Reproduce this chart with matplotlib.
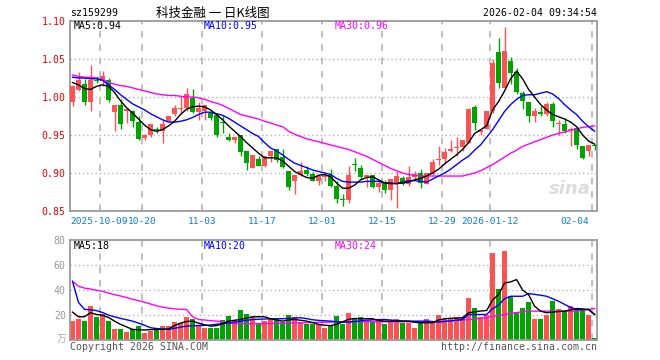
import matplotlib
matplotlib.use('Agg')
import matplotlib.pyplot as plt
import numpy as np

# daily candles, 2025-09-24 .. 2026-02-04
opens = [0.994, 1.009, 1.017, 0.993, 1.023, 1.021, 1.023, 0.980, 0.989, 0.982,
         0.982, 0.967, 0.946, 0.950, 0.958, 0.955, 0.968, 0.978, 0.984, 0.986,
         0.999, 0.980, 0.981, 0.979, 0.976, 0.967, 0.948, 0.943, 0.950, 0.929,
         0.907, 0.918, 0.909, 0.923, 0.931, 0.921, 0.903, 0.889, 0.898, 0.904,
         0.899, 0.890, 0.895, 0.898, 0.883, 0.866, 0.865, 0.912, 0.907, 0.895,
         0.898, 0.882, 0.887, 0.877, 0.886, 0.893, 0.886, 0.895, 0.900, 0.886,
         0.899, 0.917, 0.918, 0.929, 0.933, 0.934, 0.940, 0.987, 0.954, 0.958,
         0.981, 1.059, 1.012, 1.047, 1.033, 1.005, 0.994, 0.975, 0.980, 0.977,
         0.991, 0.965, 0.965, 0.957, 0.959, 0.936, 0.929, 0.937]
highs = [1.016, 1.033, 1.024, 1.042, 1.027, 1.034, 1.025, 0.989, 0.997, 0.986,
         0.983, 0.975, 0.951, 0.964, 0.961, 0.970, 0.975, 0.989, 1.001, 1.012,
         1.011, 0.994, 0.989, 0.979, 0.976, 0.975, 0.953, 0.948, 0.950, 0.929,
         0.924, 0.923, 0.923, 0.929, 0.931, 0.931, 0.903, 0.898, 0.914, 0.909,
         0.901, 0.896, 0.898, 0.905, 0.889, 0.872, 0.909, 0.920, 0.911, 0.898,
         0.898, 0.891, 0.891, 0.892, 0.902, 0.896, 0.909, 0.902, 0.905, 0.900,
         0.918, 0.935, 0.933, 0.944, 0.948, 0.943, 0.986, 0.990, 0.957, 0.982,
         1.050, 1.077, 1.092, 1.053, 1.038, 1.008, 0.994, 0.986, 0.988, 0.994,
         0.994, 0.970, 0.972, 0.961, 0.961, 0.936, 0.937, 0.938]
lows = [0.988, 1.008, 0.990, 0.981, 1.019, 1.014, 0.994, 0.955, 0.958, 0.966,
        0.961, 0.944, 0.944, 0.947, 0.953, 0.939, 0.967, 0.975, 0.978, 0.982,
        0.979, 0.970, 0.970, 0.970, 0.948, 0.953, 0.942, 0.940, 0.923, 0.904,
        0.907, 0.909, 0.908, 0.914, 0.915, 0.906, 0.878, 0.872, 0.896, 0.896,
        0.889, 0.884, 0.890, 0.882, 0.861, 0.856, 0.861, 0.902, 0.892, 0.882,
        0.880, 0.875, 0.874, 0.865, 0.854, 0.884, 0.883, 0.891, 0.880, 0.886,
        0.898, 0.911, 0.913, 0.927, 0.922, 0.929, 0.940, 0.957, 0.950, 0.958,
        0.979, 1.012, 1.012, 1.017, 1.004, 0.984, 0.967, 0.967, 0.975, 0.975,
        0.960, 0.950, 0.953, 0.935, 0.931, 0.918, 0.923, 0.930]
closes = [1.014, 1.023, 0.993, 1.022, 1.021, 1.027, 0.996, 0.989, 0.965, 0.984,
          0.968, 0.945, 0.950, 0.964, 0.957, 0.964, 0.975, 0.986, 0.986, 1.004,
          0.980, 0.986, 0.989, 0.972, 0.950, 0.966, 0.943, 0.948, 0.927, 0.913,
          0.924, 0.909, 0.923, 0.929, 0.917, 0.908, 0.882, 0.897, 0.903, 0.899,
          0.890, 0.896, 0.898, 0.883, 0.866, 0.865, 0.898, 0.911, 0.895, 0.898,
          0.881, 0.887, 0.878, 0.892, 0.896, 0.885, 0.895, 0.899, 0.887, 0.900,
          0.915, 0.918, 0.927, 0.932, 0.934, 0.943, 0.984, 0.966, 0.957, 0.982,
          1.045, 1.018, 1.060, 1.032, 1.007, 0.995, 0.975, 0.981, 0.977, 0.991,
          0.968, 0.966, 0.955, 0.958, 0.937, 0.920, 0.937, 0.936]

ma5 = [1.019, 1.016, 1.011, 1.010, 1.014, 1.016, 1.014, 1.006, 0.995, 0.986,
       0.979, 0.971, 0.963, 0.957, 0.955, 0.957, 0.962, 0.968, 0.977, 0.984,
       0.987, 0.988, 0.987, 0.983, 0.977, 0.970, 0.962, 0.955, 0.948, 0.940,
       0.933, 0.926, 0.920, 0.920, 0.920, 0.916, 0.909, 0.902, 0.898, 0.894,
       0.893, 0.897, 0.898, 0.895, 0.887, 0.880, 0.880, 0.884, 0.891, 0.894,
       0.895, 0.891, 0.887, 0.886, 0.886, 0.887, 0.888, 0.891, 0.893, 0.896,
       0.900, 0.905, 0.912, 0.918, 0.924, 0.931, 0.940, 0.952, 0.957, 0.962,
       0.983, 0.994, 1.008, 1.024, 1.034, 1.024, 1.010, 1.000, 0.990, 0.983,
       0.977, 0.974, 0.971, 0.967, 0.961, 0.950, 0.942, 0.938]
ma10 = [1.026, 1.025, 1.025, 1.024, 1.024, 1.022, 1.016, 1.010, 1.003, 0.997,
        0.991, 0.987, 0.983, 0.978, 0.974, 0.970, 0.967, 0.967, 0.968, 0.970,
        0.973, 0.977, 0.980, 0.980, 0.978, 0.976, 0.972, 0.967, 0.962, 0.957,
        0.952, 0.948, 0.940, 0.933, 0.929, 0.924, 0.918, 0.913, 0.910, 0.907,
        0.904, 0.902, 0.900, 0.898, 0.893, 0.889, 0.888, 0.888, 0.888, 0.889,
        0.889, 0.889, 0.887, 0.887, 0.886, 0.888, 0.890, 0.890, 0.889, 0.888,
        0.892, 0.896, 0.900, 0.905, 0.911, 0.917, 0.922, 0.930, 0.937, 0.947,
        0.957, 0.969, 0.981, 0.990, 0.997, 1.002, 1.003, 1.003, 1.005, 1.007,
        1.004, 0.998, 0.990, 0.983, 0.977, 0.968, 0.961, 0.955]
ma30 = [1.029, 1.027, 1.026, 1.026, 1.025, 1.023, 1.019, 1.017, 1.015, 1.014,
        1.012, 1.010, 1.008, 1.006, 1.004, 1.003, 1.002, 1.002, 1.001, 1.000,
        1.000, 0.999, 0.997, 0.994, 0.992, 0.989, 0.985, 0.981, 0.977, 0.975,
        0.973, 0.971, 0.968, 0.966, 0.963, 0.961, 0.955, 0.951, 0.948, 0.945,
        0.943, 0.941, 0.939, 0.937, 0.935, 0.933, 0.931, 0.928, 0.925, 0.922,
        0.918, 0.914, 0.910, 0.906, 0.903, 0.900, 0.898, 0.897, 0.896, 0.896,
        0.896, 0.896, 0.896, 0.896, 0.896, 0.896, 0.898, 0.900, 0.903, 0.907,
        0.911, 0.916, 0.921, 0.926, 0.930, 0.935, 0.938, 0.941, 0.944, 0.947,
        0.950, 0.952, 0.954, 0.956, 0.958, 0.960, 0.961, 0.962]

# volume, 万手
volume = [15.1, 17.0, 15.1, 27.6, 18.6, 21.2, 15.1, 8.5, 8.5, 6.4,
          9.0, 11.1, 5.3, 7.2, 9.8, 11.1, 11.1, 14.3, 13.3, 18.3,
          17.2, 11.1, 9.3, 9.3, 9.3, 15.9, 19.1, 15.9, 23.9, 21.2,
          18.6, 13.8, 15.1, 17.0, 17.0, 14.3, 19.9, 18.6, 14.3, 12.5,
          12.5, 12.5, 9.3, 11.4, 19.1, 12.5, 21.8, 17.8, 18.6, 14.3,
          14.3, 17.0, 12.5, 14.3, 17.0, 13.3, 13.3, 9.3, 14.6, 17.0,
          14.3, 19.9, 17.0, 17.0, 18.6, 17.8, 34.0, 26.0, 18.6, 19.9,
          70.0, 41.1, 71.6, 35.5, 22.3, 26.0, 30.2, 17.2, 17.2, 19.9,
          31.0, 25.2, 23.1, 27.1, 26.0, 24.4, 19.9, 1.3]
vma5 = [22.3, 18.6, 18.6, 21.8, 20.4, 19.8, 18.0, 15.1, 12.5, 10.5,
        8.5, 8.2, 8.0, 8.3, 8.5, 8.5, 8.8, 11.5, 13.5, 14.8,
        15.1, 13.5, 12.2, 11.1, 11.5, 13.0, 15.1, 15.8, 16.4, 17.5,
        18.6, 18.6, 18.6, 17.0, 16.0, 15.1, 16.0, 16.4, 15.8, 15.1,
        14.0, 12.5, 11.8, 11.5, 12.5, 14.5, 16.5, 17.2, 17.0, 17.0,
        17.0, 15.6, 15.1, 15.1, 15.1, 15.1, 15.1, 14.2, 13.8, 13.8,
        13.8, 16.0, 17.0, 17.4, 17.6, 17.8, 21.8, 22.5, 23.2, 23.6,
        32.0, 36.3, 45.6, 46.5, 48.3, 40.0, 36.3, 27.0, 23.1, 21.8,
        22.3, 22.8, 23.1, 24.0, 25.2, 24.8, 24.4, 20.4]
vma10 = [46.9, 30.0, 24.5, 24.2, 23.5, 22.0, 19.9, 18.5, 17.3, 16.2,
         15.1, 13.5, 11.8, 9.8, 9.2, 8.8, 8.5, 9.3, 10.3, 11.1,
         11.4, 11.6, 11.7, 12.0, 12.6, 13.1, 13.6, 14.2, 15.0, 15.7,
         16.4, 16.6, 16.8, 17.0, 17.0, 17.0, 17.3, 17.6, 17.8, 17.1,
         16.2, 15.7, 15.4, 15.1, 14.6, 14.3, 14.3, 14.8, 15.3, 15.8,
         16.1, 16.3, 16.4, 16.0, 15.5, 15.1, 15.1, 15.1, 15.1, 15.1,
         14.8, 14.4, 14.8, 15.3, 15.9, 16.4, 20.4, 20.4, 20.4, 20.4,
         25.0, 28.0, 33.0, 35.0, 35.0, 35.0, 37.1, 36.5, 35.8, 35.0,
         33.0, 31.0, 28.5, 26.0, 24.4, 24.4, 24.4, 20.4]
vma30 = [46.9, 43.0, 41.5, 40.8, 39.8, 39.0, 37.5, 36.3, 35.2, 34.0,
         32.6, 31.5, 30.2, 28.8, 27.4, 26.3, 25.5, 24.9, 24.6, 24.4,
         18.6, 16.4, 16.0, 15.5, 15.1, 14.5, 13.8, 13.0, 13.0, 13.0,
         13.0, 13.1, 13.2, 13.2, 13.3, 13.4, 13.5, 13.6, 13.7, 13.8,
         13.9, 14.1, 14.2, 14.3, 14.4, 14.5, 14.6, 14.6, 14.6, 14.6,
         14.6, 14.6, 14.6, 14.6, 14.6, 14.6, 14.6, 14.6, 14.6, 14.6,
         14.6, 14.6, 15.0, 15.3, 15.6, 15.9, 16.4, 16.9, 17.3, 17.8,
         19.0, 19.6, 20.4, 21.2, 21.9, 22.6, 23.1, 23.1, 23.1, 23.1,
         23.1, 23.1, 23.1, 23.1, 23.1, 23.8, 24.5, 25.2]

date_idx = [5, 12, 22, 32, 42, 52, 62, 70, 87]
date_labels = ['2025-10-09', '10-20', '11-03', '11-17', '12-01', '12-15',
               '12-29', '2026-01-12', '02-04']
price_ticks = [0.85, 0.90, 0.95, 1.00, 1.05, 1.10]
vol_ticks = [20, 40, 60, 80]

UP = '#ff5252'
DOWN = '#00a400'
GRID = '#b4b4b4'
FRAME = '#9a9a9a'
MONO = 'DejaVu Sans Mono'
FS = 7.1

W, H = 660, 360
fig = plt.figure(figsize=(W / 100, H / 100), dpi=100)


def fx(px):
    return px / W


def fy(py):
    return 1 - py / H


ax = fig.add_axes([fx(70), fy(211), (597 - 70) / W, (211 - 21) / H])
axv = fig.add_axes([fx(70), fy(340), (597 - 70) / W, (340 - 240) / H])

x = np.arange(len(closes))
o = np.array(opens)
c = np.array(closes)
up = c >= o
cols = np.where(up, UP, DOWN)
xlim = (-0.42, 87.4)
grid_x = np.array(date_idx) - 0.35

# price panel
for y in price_ticks[1:-1]:
    ax.axhline(y, color=GRID, lw=1, ls=(0, (1, 2)), zorder=0)
for gx in grid_x:
    ax.axvline(gx, color=GRID, lw=1.2, ls=(0, (4, 4)), zorder=0)

ax.vlines(x, lows, highs, colors=cols, lw=1, zorder=2)
body_h = np.maximum(np.abs(c - o), 0.0009)
ax.bar(x, body_h, bottom=np.minimum(o, c), width=0.8, color=cols, zorder=3)

ax.plot(x, ma30, color='#ff00ff', lw=1, zorder=4)
ax.plot(x, ma10, color='#0000ff', lw=1, zorder=4)
ax.plot(x, ma5, color='black', lw=1, zorder=4)

ax.set_xlim(*xlim)
ax.set_ylim(0.85, 1.10)
ax.set_yticks(price_ticks)
ax.set_yticklabels(['%.2f' % t for t in price_ticks], color='#ee0000',
                   fontfamily=MONO, fontsize=FS)
ax.set_xticks(grid_x)
ax.set_xticklabels([''] + date_labels[1:-1] + [''])
ax.tick_params(length=0, pad=3)
ax.tick_params(axis='x', pad=4, labelcolor='#0a7fd6', labelsize=6.8)
for lbl in ax.get_xticklabels():
    lbl.set_fontfamily(MONO)

# first and last date labels are pushed inside the frame
ax.text(0.0, -0.03, date_labels[0], transform=ax.transAxes, ha='left', va='top',
        color='#0a7fd6', fontfamily=MONO, fontsize=6.8)
ax.text(0.986, -0.03, date_labels[-1], transform=ax.transAxes, ha='right', va='top',
        color='#0a7fd6', fontfamily=MONO, fontsize=6.8)

ax.text(0.988, 0.07, 'sina', transform=ax.transAxes, ha='right', va='bottom',
        fontsize=13, fontweight='bold', fontstyle='italic', color='#dcdcdc', zorder=1)

# volume panel
for y in vol_ticks[:-1]:
    axv.axhline(y, color=GRID, lw=1, ls=(0, (1, 2)), zorder=0)
for gx in grid_x:
    axv.axvline(gx, color=GRID, lw=1.2, ls=(0, (4, 4)), zorder=0)

axv.bar(x, volume, width=0.8, color=cols, zorder=2)
axv.plot(x, vma30, color='#ff00ff', lw=1, zorder=3)
axv.plot(x, vma10, color='#0000ff', lw=1, zorder=3)
axv.plot(x, vma5, color='black', lw=1, zorder=3)

axv.set_xlim(*xlim)
axv.set_ylim(0, 80)
axv.set_xticks([])
axv.set_yticks(vol_ticks)
axv.set_yticklabels([str(t) for t in vol_ticks], color='#999999',
                    fontfamily=MONO, fontsize=FS)
axv.tick_params(length=0, pad=3)

for a in (ax, axv):
    for s in a.spines.values():
        s.set_color(FRAME)
        s.set_linewidth(1.3)

# header / legends / footer
fig.text(fx(70), fy(13), 'sz159299', ha='left', va='center',
         fontfamily=MONO, fontsize=FS)
fig.text(fx(213), fy(13), '科技金融 一 日K线图', ha='center', va='center',
         family=['Noto Sans CJK SC', 'DejaVu Sans'], fontsize=9)
fig.text(fx(597), fy(13), '2026-02-04 09:34:54', ha='right', va='center',
         fontfamily=MONO, fontsize=FS)

legend_x = [74, 204, 335]
legend_c = ['black', '#0000ff', '#ff00ff']
for lx, lc, t in zip(legend_x, legend_c, ['MA5:0.94', 'MA10:0.95', 'MA30:0.96']):
    fig.text(fx(lx), fy(26), t, color=lc, ha='left', va='center',
             fontfamily=MONO, fontsize=FS)
for lx, lc, t in zip(legend_x, legend_c, ['MA5:18', 'MA10:20', 'MA30:24']):
    fig.text(fx(lx), fy(246), t, color=lc, ha='left', va='center',
             fontfamily=MONO, fontsize=FS)

fig.text(fx(66), fy(339), '万', ha='right', va='center', color='#aaaaaa',
         family=['Noto Sans CJK SC', 'DejaVu Sans'], fontsize=7)
fig.text(fx(70), fy(347), 'Copyright 2026 SINA.COM', ha='left', va='center',
         color='#555555', fontfamily=MONO, fontsize=FS)
fig.text(fx(597), fy(347), 'http://finance.sina.com.cn', ha='right', va='center',
         color='#555555', fontfamily=MONO, fontsize=FS)

fig.savefig('out.png', dpi=100, facecolor='white')
